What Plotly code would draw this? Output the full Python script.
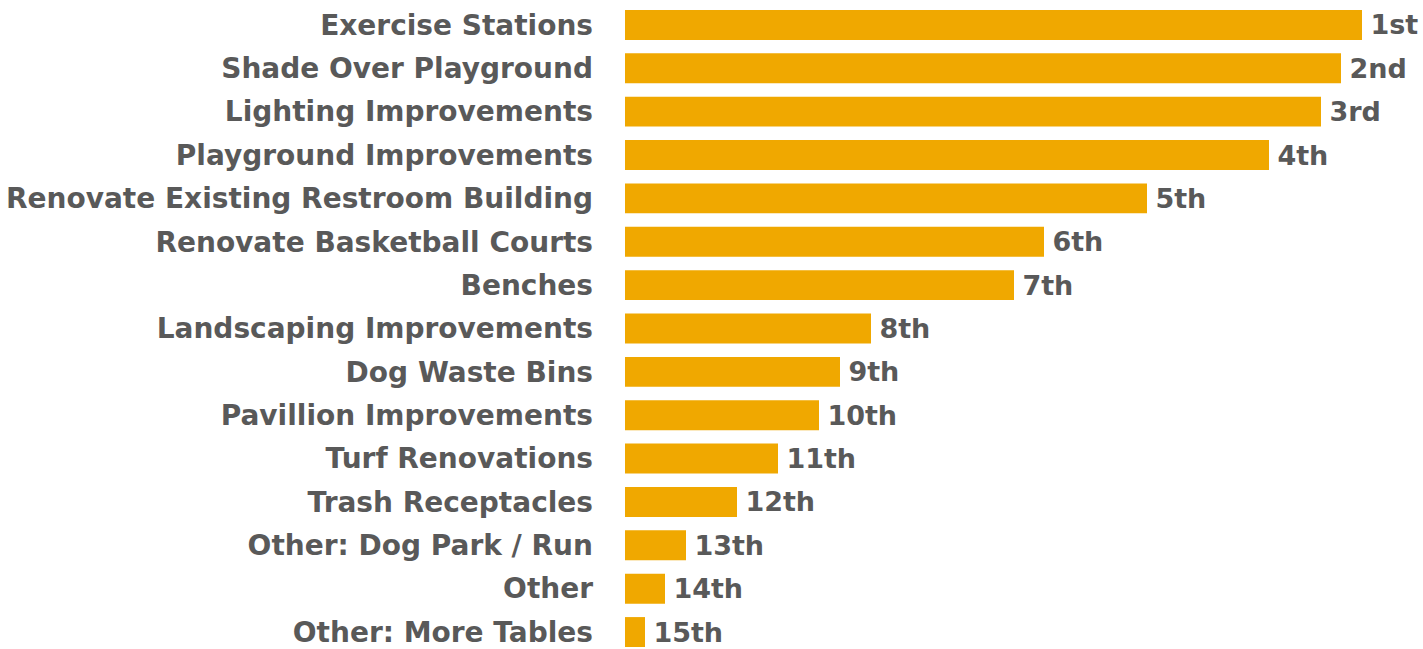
import plotly.graph_objects as go

# amenities listed top to bottom as in the reference
amenities = [
    "Exercise Stations",
    "Shade Over Playground",
    "Lighting Improvements",
    "Playground Improvements",
    "Renovate Existing Restroom Building",
    "Renovate Basketball Courts",
    "Benches",
    "Landscaping Improvements",
    "Dog Waste Bins",
    "Pavillion Improvements",
    "Turf Renovations",
    "Trash Receptacles",
    "Other: Dog Park / Run",
    "Other",
    "Other: More Tables",
]
scores = [737, 716, 696, 644, 522, 419, 389, 246, 215, 194, 153, 112, 61, 40, 20]
ranks = ["1st", "2nd", "3rd", "4th", "5th", "6th", "7th", "8th",
         "9th", "10th", "11th", "12th", "13th", "14th", "15th"]

BAR = "#F0A800"
GREY = "#595959"
FONT = "DejaVu Sans"

# plotly draws categories bottom-up, so flip the order
fig = go.Figure(go.Bar(
    x=scores[::-1],
    y=amenities[::-1],
    orientation="h",
    text=ranks[::-1],
    texttemplate="\u2009%{text}",
    textposition="outside",
    constraintext="none",
    cliponaxis=False,
    textfont=dict(family=FONT, size=27, color=GREY, weight="bold"),
    marker=dict(color=BAR, line=dict(width=0)),
    width=0.69,
    hoverinfo="skip",
))

fig.update_layout(
    width=1423,
    height=649,
    margin=dict(l=625, r=0, t=0, b=0),
    paper_bgcolor="white",
    plot_bgcolor="white",
    showlegend=False,
    xaxis=dict(range=[0, 798], visible=False),
    yaxis=dict(
        range=[-0.345, 14.575],
        showgrid=False,
        showline=False,
        ticks="",
        ticklabelstandoff=31,
        tickfont=dict(family=FONT, size=28, color=GREY, weight="bold"),
    ),
)

# drop the default body margin so the figure fills the window without scrollbars
fig.write_html(
    "out.html",
    config={"displayModeBar": False},
    post_script="document.body.style.margin='0';document.body.style.overflow='hidden';",
)
